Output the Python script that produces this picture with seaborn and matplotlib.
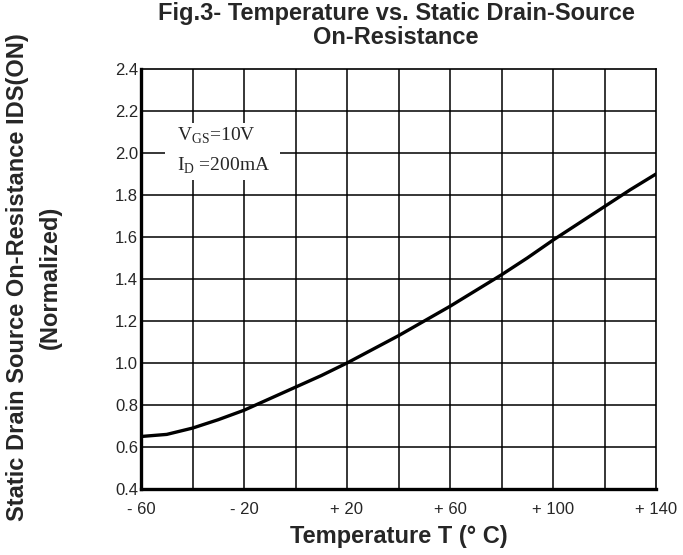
"""Fig.3 - Temperature vs. Static Drain-Source On-Resistance (normalized)."""

import matplotlib
matplotlib.use("Agg")
import matplotlib.pyplot as plt
from matplotlib.patches import Rectangle
import numpy as np
import pandas as pd
import seaborn as sns

# %% DATA
temperature = [-60, -50, -40, -30, -20, -10, 0, 10, 20, 30, 40,
               50, 60, 70, 80, 90, 100, 110, 120, 130, 140]
resistance = [0.65, 0.66, 0.69, 0.73, 0.775, 0.83, 0.885, 0.94, 1.0, 1.065, 1.13,
              1.2, 1.27, 1.345, 1.42, 1.5, 1.585, 1.665, 1.745, 1.825, 1.9]
x_ticks = [-60, -20, 20, 60, 100, 140]
x_tick_labels = ["- 60", "- 20", "+ 20", "+ 60", "+ 100", "+ 140"]
y_ticks = [0.4, 0.6, 0.8, 1.0, 1.2, 1.4, 1.6, 1.8, 2.0, 2.2, 2.4]

df = pd.DataFrame({"temp": temperature, "rds": resistance})

# %% VISUALISE
sns.set_style("white")
plt.rcParams["font.family"] = ["Liberation Sans", "DejaVu Sans"]

fig = plt.figure(figsize=(6.83, 5.55), dpi=100)
ax = fig.add_axes([141 / 683, 1 - 489 / 555, 515 / 683, 420 / 555])

sns.lineplot(data=df, x="temp", y="rds", color="black", linewidth=2.4, ax=ax, zorder=3)

ax.set_xlim(-60, 140)
ax.set_ylim(0.4, 2.4)

# grid every 20 degrees / 0.2 units
for gx in np.arange(-40, 140, 20):
    ax.axvline(gx, color="black", linewidth=1.1, zorder=0)
for gy in y_ticks[1:-1]:
    ax.axhline(gy, color="black", linewidth=1.1, zorder=0)

ax.set_xticks(x_ticks)
ax.set_xticklabels(x_tick_labels, fontsize=12)
ax.set_yticks(y_ticks)
ax.set_yticklabels([f"{v:.1f}" for v in y_ticks], fontsize=12)
ax.tick_params(axis="y", length=0, pad=2)
ax.tick_params(axis="x", length=0, pad=9)

for side in ["top", "right"]:
    ax.spines[side].set_linewidth(1.2)
for side in ["left", "bottom"]:
    ax.spines[side].set_linewidth(2.4)
for s in ax.spines.values():
    s.set_color("black")

ax.set_xlabel("Temperature T (° C)", fontsize=17, fontweight="bold", labelpad=6)
ax.set_ylabel("")

# condition box
ax.add_patch(Rectangle((-50.7, 1.87), 44.7, 0.275, facecolor="white",
                       edgecolor="none", zorder=1))
serif = ["Liberation Serif", "DejaVu Serif"]
ax.text(-46, 2.08, "V$_{\\mathregular{GS}}$=10V", family=serif, fontsize=14,
        va="center", ha="left", zorder=2)
ax.text(-46, 1.94, "I$_{\\mathregular{D}}$ =200mA", family=serif, fontsize=14,
        va="center", ha="left", zorder=2)

fig.text(0.58, 0.997, "Fig.3- Temperature vs. Static Drain-Source\nOn-Resistance",
         ha="center", va="top", fontsize=17, fontweight="bold", linespacing=1.05)

fig.text(0.026, 0.5, "Static Drain Source On-Resistance IDS(ON)", rotation=90,
         ha="center", va="center", fontsize=17, fontweight="bold")
fig.text(0.074, 0.5, "(Normalized)", rotation=90,
         ha="center", va="center", fontsize=17, fontweight="bold")

fig.savefig("out.png", dpi=100)
